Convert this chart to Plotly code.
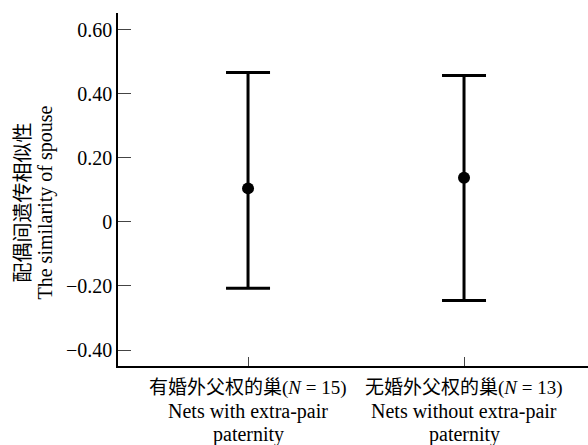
import plotly.graph_objects as go

# Data
categories_cn = ["有婚外父权的巢", "无婚外父权的巢"]
sample_n = [15, 13]
categories_en_1 = ["Nets with extra-pair", "Nets without extra-pair"]
categories_en_2 = ["paternity", "paternity"]
means = [0.105, 0.138]
upper = [0.467, 0.458]
lower = [-0.207, -0.245]
y_tickvals = [-0.4, -0.2, 0, 0.2, 0.4, 0.6]
y_ticktext = ["\u22120.40", "\u22120.20", "0", "0.20", "0.40", "0.60"]

xpos = list(range(len(means)))
err_plus = [u - m for u, m in zip(upper, means)]
err_minus = [m - l for m, l in zip(means, lower)]

SERIF = "Liberation Serif, Times New Roman, serif"
CJK = "Noto Sans CJK SC"

fig = go.Figure()
fig.add_trace(go.Scatter(
    x=xpos, y=means, mode="markers",
    marker=dict(size=12, color="black"),
    error_y=dict(type="data", symmetric=False, array=err_plus, arrayminus=err_minus,
                 color="black", thickness=3, width=22),
    showlegend=False,
))

annotations = []
for i, (cn, n, e1, e2) in enumerate(zip(categories_cn, sample_n, categories_en_1, categories_en_2)):
    annotations.append(dict(
        x=i, y=0, xref="x", yref="paper", yanchor="middle", showarrow=False, yshift=-19,
        text=f"<span style='font-family:{CJK}'>{cn}</span>(<i>N</i> = {n})",
        font=dict(family=SERIF, size=19, color="black"),
    ))
    annotations.append(dict(
        x=i, y=0, xref="x", yref="paper", yanchor="middle", showarrow=False, yshift=-45,
        text=e1, font=dict(family=SERIF, size=20, color="black"),
    ))
    annotations.append(dict(
        x=i, y=0, xref="x", yref="paper", yanchor="middle", showarrow=False, yshift=-68,
        text=e2, font=dict(family=SERIF, size=20, color="black"),
    ))

annotations.append(dict(
    x=0, y=0.5, xref="paper", yref="paper", xanchor="center", yanchor="middle",
    xshift=-97, yshift=-13, textangle=-90, showarrow=False,
    text="配偶间遗传相似性", font=dict(family=CJK, size=20, color="black"),
))
annotations.append(dict(
    x=0, y=0.5, xref="paper", yref="paper", xanchor="center", yanchor="middle",
    xshift=-73, yshift=-13, textangle=-90, showarrow=False,
    text="The similarity of spouse", font=dict(family=SERIF, size=20, color="black"),
))

fig.update_layout(
    width=588, height=445,
    margin=dict(l=118, r=0, t=13, b=79),
    plot_bgcolor="white", paper_bgcolor="white",
    annotations=annotations,
    xaxis=dict(
        range=[-0.602, 1.574], tickvals=xpos, showticklabels=False,
        ticks="inside", ticklen=9, tickwidth=1, tickcolor="#444",
        showline=True, linecolor="black", linewidth=1.5,
        showgrid=False, zeroline=False, fixedrange=True,
    ),
    yaxis=dict(
        range=[-0.45, 0.653], tickvals=y_tickvals, ticktext=y_ticktext,
        ticks="inside", ticklen=13, tickwidth=1, tickcolor="#444",
        showline=True, linecolor="black", linewidth=1.5,
        showgrid=False, zeroline=False,
        tickfont=dict(family=SERIF, size=20, color="black"),
        fixedrange=True,
    ),
)

fig.write_html("out.html")
